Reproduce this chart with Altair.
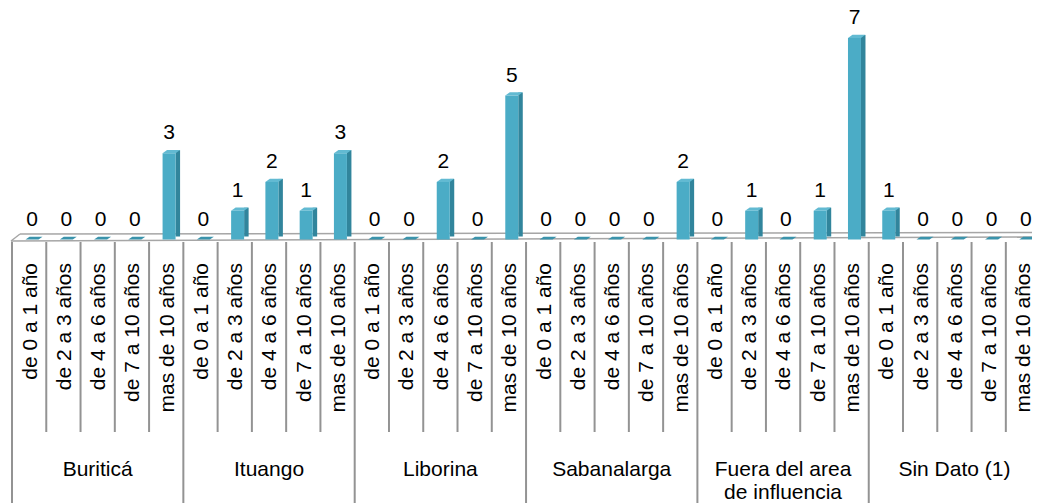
import altair as alt
import pandas as pd

# ---- data ----
groups = ["Buriticá", "Ituango", "Liborina", "Sabanalarga",
          "Fuera del area\nde influencia", "Sin Dato (1)"]
categories = ["de 0 a 1 año", "de 2 a 3 años", "de 4 a 6 años",
              "de 7 a 10 años", "mas de 10 años"]
buritica = [0, 0, 0, 0, 3]
ituango = [0, 1, 2, 1, 3]
liborina = [0, 0, 2, 0, 5]
sabanalarga = [0, 0, 0, 0, 2]
fuera = [0, 1, 0, 1, 7]
sin_dato = [1, 0, 0, 0, 0]
series = [buritica, ituango, liborina, sabanalarga, fuera, sin_dato]

rows = []
for g, (grp, vals) in enumerate(zip(groups, series)):
    for c, (cat, v) in enumerate(zip(categories, vals)):
        rows.append({"i": g * 5 + c, "grupo": grp, "cat": cat, "valor": v})
df = pd.DataFrame(rows)
df_groups = pd.DataFrame({"g": [k * 5 + 2.5 for k in range(len(groups))], "grupo": groups})
df_bounds = pd.DataFrame({"b": list(range(len(df) + 1))})
df_floor = pd.DataFrame({"x0": [0], "x1": [len(df)]})

FONT = "Liberation Sans"
FRONT = "#4BACC6"
SIDE = "#31859C"
TOP = "#62BAD2"
ZERO = "#3A93AB"
GRID = "#939393"

xs = alt.Scale(domain=[0, 30], range=[4, 1032.1], nice=False, zero=False)
ys = alt.Scale(domain=[0, 7], range=[231.5, 30], nice=False, zero=False)

base = alt.Chart(df)
X = alt.X("i:Q", scale=xs, axis=None)
Y = alt.Y("valor:Q", scale=ys, axis=None)

# floor of the 3D plot
floor_top = alt.Chart(df_floor).mark_rule(color="#A6A6A6", strokeWidth=1.5, xOffset=8).encode(
    x=alt.X("x0:Q", scale=xs, axis=None), x2="x1:Q",
    y=alt.value(226), y2=alt.value(224.5))
floor_bottom = alt.Chart(df_floor).mark_rule(color="#A6A6A6", strokeWidth=1.5, xOffset=-1).encode(
    x=alt.X("x0:Q", scale=xs, axis=None), x2="x1:Q",
    y=alt.value(233), y2=alt.value(229))
floor_side = alt.Chart(df_floor).mark_rule(color="#A6A6A6", strokeWidth=1.5, xOffset=-1, x2Offset=8).encode(
    x=alt.X("x0:Q", scale=xs, axis=None), x2="x0:Q",
    y=alt.value(233), y2=alt.value(226))

# table lines below the floor
minor = alt.Chart(df_bounds).transform_filter("datum.b % 5 != 0").mark_rule(
    color=GRID, strokeWidth=2).encode(
    x=alt.X("b:Q", scale=xs, axis=None), y=alt.value(234), y2=alt.value(424))
major = alt.Chart(df_bounds).transform_filter("datum.b % 5 == 0").mark_rule(
    color=GRID, strokeWidth=2).encode(
    x=alt.X("b:Q", scale=xs, axis=None), y=alt.value(234), y2=alt.value(495))

# 3D bars
side = base.transform_filter("datum.valor > 0").mark_rect(
    color=SIDE, xOffset=26.5, x2Offset=31, yOffset=-3, y2Offset=-3).encode(
    x=X, x2="i:Q", y=Y, y2=alt.datum(0))
front = base.transform_filter("datum.valor > 0").mark_rect(
    color=FRONT, xOffset=13.5, x2Offset=26.5).encode(
    x=X, x2="i:Q", y=Y, y2=alt.datum(0))
top_face = base.transform_filter("datum.valor > 0").mark_point(
    shape="M0,0L13,0L17.5,-3.2L4.5,-3.2Z", size=4, filled=True, opacity=1,
    color=TOP, strokeWidth=0, xOffset=13.5).encode(x=X, y=Y)
zero_face = base.transform_filter("datum.valor == 0").mark_point(
    shape="M0,0L13,0L17,-2.8L4,-2.8Z", size=4, filled=True, opacity=1,
    color=ZERO, strokeWidth=0, xOffset=13.5).encode(x=X, y=Y)

# value labels
labels = base.mark_text(font=FONT, fontSize=21, color="#000000", xOffset=20, dy=-20,
                        align="center", baseline="middle").encode(
    x=X, y=Y, text=alt.Text("valor:Q"))

# category labels (rotated)
cat_labels = base.mark_text(font=FONT, fontSize=21, color="#000000", angle=270,
                            align="right", baseline="middle", xOffset=18.5).encode(
    x=X, y=alt.value(255), text="cat:N")

# group labels
grp_labels = alt.Chart(df_groups).mark_text(font=FONT, fontSize=21, color="#000000",
                                            align="center", baseline="top",
                                            lineBreak="\n", lineHeight=23).encode(
    x=alt.X("g:Q", scale=xs, axis=None), y=alt.value(450.5), text="grupo:N")

chart = alt.layer(
    floor_top, floor_bottom, floor_side, minor, major,
    side, front, top_face, zero_face, labels, cat_labels, grp_labels
).properties(
    width=1024, height=495, padding=0,
    autosize=alt.AutoSizeParams(type="none"),
    background="#FFFFFF"
).configure_view(stroke=None)

chart.save("out.html", embed_options={"renderer": "svg", "actions": False})
